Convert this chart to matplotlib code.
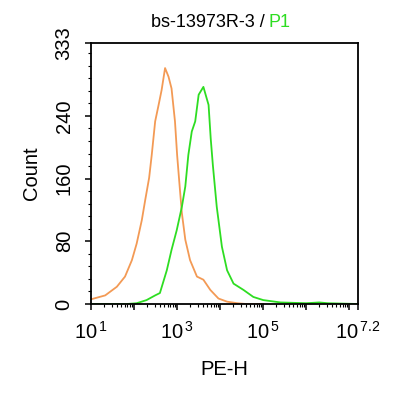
import numpy as np
import matplotlib
matplotlib.use("Agg")
import matplotlib.pyplot as plt
from matplotlib.ticker import FixedLocator, LogLocator, MultipleLocator, NullFormatter

plt.rcParams['font.family'] = ['Liberation Sans', 'DejaVu Sans']
plt.rcParams['mathtext.fontset'] = 'custom'
plt.rcParams['mathtext.rm'] = 'Liberation Sans'

# histogram traces, x given as log10(PE-H)
control_log = [1.0, 1.33, 1.6, 1.79, 1.95, 2.06, 2.18, 2.26, 2.35, 2.41, 2.49, 2.57,
               2.64, 2.72, 2.80, 2.87, 2.95, 3.0, 3.05, 3.11, 3.19, 3.30, 3.46, 3.61,
               3.77, 3.96, 4.16, 4.4, 4.6, 5.0]
control_count = [6, 11, 22, 35, 56, 77, 107, 133, 161, 190, 233, 254,
                 273, 301, 290, 275, 233, 190, 156, 116, 82, 56, 35, 31,
                 18, 7, 3, 1, 0, 0]

sample_log = [1.0, 1.83, 2.06, 2.29, 2.49, 2.6, 2.76, 2.87, 2.99, 3.11, 3.19, 3.26,
              3.34, 3.42, 3.50, 3.61, 3.73, 3.78, 3.83, 3.92, 4.04, 4.16, 4.31, 4.54,
              4.77, 5.0, 5.4, 6.0, 6.3, 6.5, 7.2]
sample_count = [0, 0, 1, 5, 11, 14, 43, 69, 94, 124, 150, 190,
                220, 233, 267, 277, 254, 211, 177, 124, 73, 43, 26, 18,
                9, 5, 2, 1, 2, 1, 0]

xtick_exp = [1, 2, 3, 4, 5, 6, 7, 7.2]
xtick_labels = [r'$\mathregular{10^{\,1}}$', '', r'$\mathregular{10^{\,3}}$', '',
                r'$\mathregular{10^{\,5}}$', '', '', r'$\mathregular{10^{\,7.2}}$']
ytick_vals = [0, 80, 160, 240, 333]

fig = plt.figure(figsize=(4.0, 3.94), dpi=100)
ax = fig.add_axes([0.2275, 0.2284, 0.6675, 0.6625])

ax.plot(10 ** np.array(control_log), control_count, color='#F39A55', lw=1.3)
ax.plot(10 ** np.array(sample_log), sample_count, color='#2EDD22', lw=1.3)

ax.set_xscale('log')
ax.set_xlim(10, 10 ** 7.2)
ax.set_ylim(0, 333)

ax.xaxis.set_major_locator(FixedLocator([10 ** e for e in xtick_exp]))
ax.set_xticklabels(xtick_labels)
ax.xaxis.set_minor_locator(LogLocator(base=10, subs=np.arange(2, 10), numticks=20))
ax.xaxis.set_minor_formatter(NullFormatter())

ax.set_yticks(ytick_vals)
ax.set_yticklabels([str(v) for v in ytick_vals], rotation=90, va='center')
ax.yaxis.set_minor_locator(MultipleLocator(16))

ax.tick_params(which='major', direction='out', length=4.5, width=1.1,
               labelsize=14.5, pad=8)
ax.tick_params(which='minor', direction='out', length=2.5, width=0.8)
for s in ax.spines.values():
    s.set_linewidth(1.3)

ax.set_xlabel('PE-H', fontsize=14.5, labelpad=12)
ax.set_ylabel('Count', fontsize=14.5, labelpad=10)

fig.text(0.6625, 0.944, 'bs-13973R-3 /', ha='right', va='center', fontsize=13)
fig.text(0.67, 0.944, 'P1', ha='left', va='center', fontsize=13, color='#2EDD22')

fig.savefig('out.png', dpi=100)
